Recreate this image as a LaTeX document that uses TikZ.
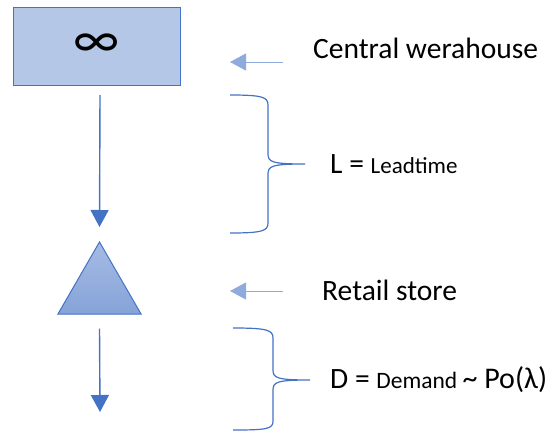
\documentclass[tikz,border=0pt]{standalone}
\usepackage{fontspec}
\setmainfont{Carlito}
\usetikzlibrary{arrows.meta,shapes.geometric}

\definecolor{officeblue}{HTML}{4472C4}
\definecolor{lightfill}{HTML}{B4C7E7}
\definecolor{paleblue}{HTML}{8FAADC}

\tikzset{
  flow/.style={draw=officeblue,line width=1.4pt,-{Triangle[length=17pt,width=18pt]}},
  pointer/.style={draw=paleblue,line width=1pt,-{Triangle[length=16pt,width=17pt]}},
  brc/.style={draw=officeblue,line width=1.2pt},
  big/.style={font=\fontsize{29.5}{34}\selectfont},
}

\begin{document}
\begin{tikzpicture}[x=1pt,y=-1pt,every node/.style={inner sep=0pt}]
\useasboundingbox (0,0) rectangle (553,431);
% warehouse and store
\node (wh) [draw=officeblue,line width=1pt,fill=lightfill,minimum width=167pt,minimum height=78pt] at (96.5,46) {\fontsize{54}{58}\selectfont ∞};
\node (store) [regular polygon,regular polygon sides=3,minimum size=96pt,draw=officeblue,line width=1pt,
  top color=paleblue!80,bottom color=officeblue!65] at (99.5,290) {};
\coordinate (src) at (100,95);
\coordinate (sink) at (100,412);
\draw[flow] (src) -- ([yshift=14pt]store.corner 1);
\draw[flow] ([yshift=-14pt]store.south) -- (sink);
% labels with their pointers
\node (lwh) [big,anchor=west] at (313,48) {Central werahouse};
\node (lst) [big,anchor=west] at (322,290) {Retail store};
\coordinate (p1) at (283,62);
\coordinate (p2) at (283,291);
\draw[pointer] (p1) -- ++(-53,0);
\draw[pointer] (p2) -- ++(-53,0);
% lead time brace
\coordinate (t1) at (305,164);
\draw[brc] (230,95) .. controls (262,95) and (268,97) .. (268,105) -- (268,154)
  .. controls (268,162) and (272,164) .. (t1)
  .. controls (272,164) and (268,166) .. (268,174) -- (268,223)
  .. controls (268,231) and (262,233) .. (230,233);
\node (ll) [anchor=west,xshift=25pt] at (t1) {\fontsize{29.5}{34}\selectfont L = \fontsize{23}{26}\selectfont Leadtime};
% demand brace
\coordinate (t2) at (310,380);
\draw[brc] (233,328) .. controls (267,328) and (273,330) .. (273,338) -- (273,370)
  .. controls (273,378) and (277,380) .. (t2)
  .. controls (277,380) and (273,382) .. (273,390) -- (273,421)
  .. controls (273,429) and (267,430) .. (233,430);
\node (ld) [anchor=west,xshift=20pt] at (t2) {\fontsize{29.5}{34}\selectfont D = \fontsize{23.5}{26}\selectfont Demand \fontsize{30}{34}\selectfont\textasciitilde\ Po(λ)};
\end{tikzpicture}
\end{document}
